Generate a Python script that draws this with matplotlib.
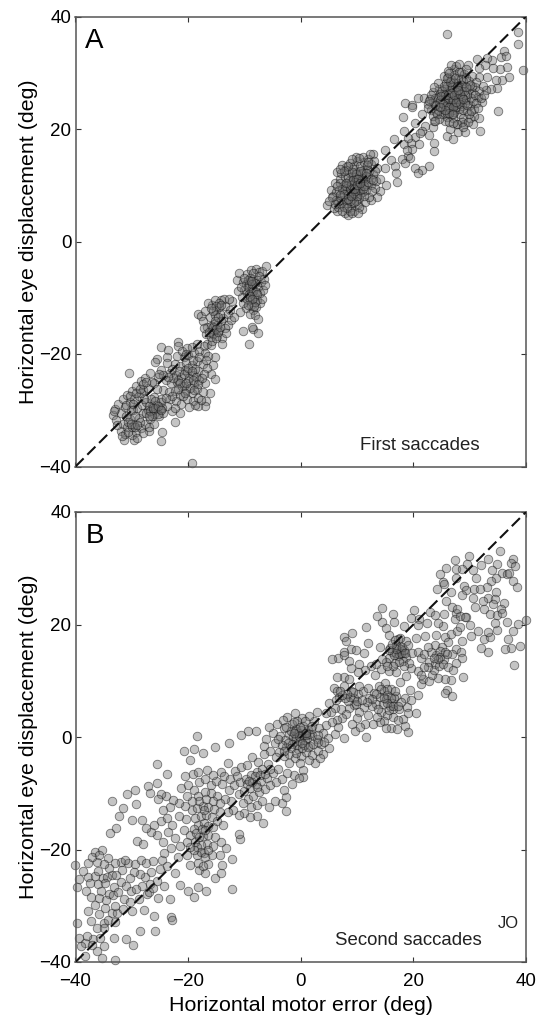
"""
Saccade amplitude vs motor error, first and second saccades.
"""
import numpy as np
import matplotlib
matplotlib.use("Agg")
import matplotlib.pyplot as plt

plt.rcParams['font.family'] = ['Liberation Sans', 'DejaVu Sans']

# Panel A, values (motor error, eye displacement)
a_top_sparse = [(26,36.9),(38.5,37.2),(38.5,35.1),(39.4,30.5),(35,23.2),(36.1,33.8),(35.6,32.8),(36.4,32.9),(31.3,32.5),
    (34,32.3),(33.1,32.6),(29.7,31.4),(36.7,31),(35.4,30.6),(34.2,30.8),(32.7,31.4),(31.7,30.8),(37,29.2),(35.8,28.8),
    (34.6,28.7),(33,29.3),(31.7,29.3),(34.9,27.3),(33.7,27.2),(32.9,26.9),(25.9,18.8),(27.1,18.2),(28,19.5),(29.2,19.4),
    (26.5,20),(31.8,19.6),(30.5,20.9),(27.8,20.9),(29,20.9),(31.7,21.9),(30.8,22.3),(32.1,24.8),(18.5,24.7),(19.8,24.2),
    (20.8,25.6),(21.8,25.6),(18.1,22.1),(21.6,22.6),(20.2,21),(22.1,20.6),(18.4,19.7),(21.5,19.7),(22.7,18.9),(23.5,20.3),
    (23.6,21.5),(16.5,18.2),(20.2,18.5),(21,17.4),(18.4,17.3),(19.6,17.6),(23.6,17.5),(23.6,16.1),(19.8,16.4),(15,16.2),
    (19,15.2),(18,14.6),(16,14.5),(18.6,13.9),(16.7,13.4),(20.2,13.1),(22.7,13.4),(21.5,12.8),(20.8,12.1),(17,12.2),
    (15,13.1),(17.1,10.5),(15.2,10.1),(14.1,8.9),(13.5,7.9),(12.5,7.4),(12.9,15.6),(19.7,23.9),(22.6,24.4),(23.4,26.6),
    (21.2,19.3),(19.1,18.4),(18.9,16.2),(19.4,14.9)]
a_top_dense = [(24.1,24.2),(25.2,26.3),(26.4,25.1),(27.3,27.2),(28.2,25.6),(25.8,28.1),(26.9,23.4),(27.9,29.1),(28.9,27.6),(29.4,25.1),
    (24.6,27.2),(23.4,24.9),(25.1,23.6),(26.1,29.3),(27.2,30.6),(28.4,30.1),(29.8,28.6),(30.6,26.4),(31.4,25.7),(30.1,24.3),
    (28.7,24.1),(27.4,24.7),(26.3,26.8),(25.4,25.2),(24.4,25.7),(23.1,23.4),(22.6,23.8),(24.9,22.6),(26,22.2),(27.1,21.9),
    (28.2,22.7),(29.5,23.2),(30.7,23.6),(29.9,27.1),(28.9,28.6),(27.8,28.1),(26.7,28.9),(25.6,27.1),(24.7,26.2),(23.9,25.6),
    (26.2,24.2),(27.6,25.9),(28.6,26.7),(27,26.3),(25.9,25.6),(26.6,27.6),(27.8,26.8),(28.1,23.5),(29.1,24.7),(30.2,25.6),
    (31,27.4),(30.4,29.4),(29,29.8),(27.6,31.2),(26.6,31.4),(25.4,29.4),(24.3,28.2),(25,24.6),(26.8,24.6),(28.4,25.1),
    (29.6,26.3),(27.3,23.1),(24,23.1),(25.6,21.4),(27.7,20.9),(30,22),(28.8,21.9),(26.5,23.6),(25.3,22.6),(23.4,22.3),
    (22.9,25.4),(23.6,27.4),(26.2,30.4),(27.9,27.7),(27.1,28.4),(28.4,27.9),(26,27.7),(25.1,26.8),(24.5,24.7),(29.2,26.1),
    (30.4,27.7),(31.6,26.8),(32.3,27.6),(31.2,28.4),(29.4,30.7),(28.1,31.6),(26.7,25.7),(27.4,24.3),(25.8,24.1),(28,24.6),
    (26.1,25.3),(27.5,26.5),(26.9,27.4),(28.6,25.7),(25.6,26),(24.8,25.1)]
a_top_extra = [(24.4,23.4),(24.9,25.9),(25.3,24.4),(25.5,27.6),(25.9,22.9),(26.2,26.1),(26.5,28.3),(26.8,22.7),(27,25.2),(27.2,29.6),
    (27.5,23.9),(27.7,27.4),(27.9,25.3),(28.1,30.2),(28.3,24.4),(28.5,28.9),(28.8,23.3),(29,26.7),(29.3,29.1),(29.5,24.2),
    (29.8,22.6),(30,27.9),(30.3,23.2),(30.6,25),(30.9,26.1),(31.2,24.6),(31.5,23.8),(32,25.6),(32.5,26),(24.2,22.7),
    (23.8,24.3),(23.2,26.1),(22.8,24.9),(26.4,24),(26.7,26.4),(27.1,24),(27.6,24.8),(27.3,26),(28.3,26.3),(26.3,22.9),
    (25.7,23.3),(24.7,23.9),(25.9,29),(26.4,29.9),(27.4,29),(28,27),(28.8,25.3),(29.4,27.5),(27,22.6),(28.6,21.2),
    (26.3,21.3),(24.6,21.8),(23.9,21.5),(29.7,21.3),(28.9,20.3),(27,21)]
a_mid_dense = [(4.6,6.5),(5.8,8.1),(6.5,5.4),(7.2,6.6),(7.9,5.1),(8.4,4.8),(8.9,6.2),(9.4,5.4),(10.1,6.6),(10.8,5.8),
    (11.4,7.1),(12.2,7.9),(6.2,7.4),(6.8,9.2),(7.4,8.1),(8,7.3),(8.6,8.4),(9.1,7.6),(9.7,8.5),(10.3,7.7),
    (10.9,8.8),(11.6,9.2),(12.4,10.1),(13.1,9.6),(5.3,9.1),(6,10.4),(6.9,11.1),(7.6,10),(8.3,9.5),(8.9,10.6),
    (9.5,9.8),(10.1,10.7),(10.7,9.9),(11.3,11),(12,11.5),(12.8,12),(13.4,10.8),(14,11.2),(6.4,12.4),(7.2,12.1),
    (7.9,11.5),(8.5,12.3),(9.2,11.6),(9.8,12.4),(10.4,11.8),(11,12.7),(11.7,12.9),(8,13.2),(8.7,14),(9.4,13.4),
    (10,14.3),(10.6,13.5),(11.2,14.2),(11.9,14.6),(12.5,13.8),(7.4,13.6),(9.8,15),(11,15.1),(12.3,15.5),(13,14.4),
    (9,9),(9.6,10.5),(10.2,9.3),(8.5,10.8),(10.8,10.9),(8.2,8.6),(9.3,8.3),(10.6,8.4),(7.8,9.1),(11.5,10.2),
    (7.2,7.4),(9,6.9),(10.4,6.2),(9.9,7.2),(8.7,5.4),(11.2,8.1),(12.6,8.9),(5.1,7.2),(5.9,5.9),(6.7,6.1),
    (8.4,11.4),(9.9,11.1),(10.9,12.2),(9.3,12.9),(8.1,12.7),(7,10.4),(6.2,8.8),(12.2,12.6),(13.6,13.1),(11.8,13.6)]
a_mid_extra = [(7.6,6.1),(8.2,6.9),(8.8,7.2),(9.2,8.7),(9.5,7),(9.8,9.4),(10,8.1),(10.3,10.1),(10.5,9.1),(10.8,11.3),
    (8.1,9.9),(8.4,7.6),(8.7,9.4),(9,10.1),(9.3,11),(9.6,9),(9.9,12),(10.2,11.2),(10.5,12.6),(11,9.4),
    (11.3,9.9),(11.6,11.6),(11.9,10.6),(7.4,9.4),(7.7,8.4),(7,8.2),(6.6,7.2),(8,10.4),(8.9,8.1),(9.4,9.4),
    (10,10),(10.6,10.4),(9.1,12.4),(8.4,13.4),(7.6,12.6),(6.9,12.9),(10.4,14.8),(9.1,14.6),(11.6,12.1),(12.4,11.1),
    (8.3,5.9),(9.1,5.1),(7.4,5.4),(10.1,5.1),(6.1,6.7),(5.5,7.9),(6.4,9.9),(12.9,11),(13.1,12.6),(12,14.1)]
a_neg9 = [(-11.4,-6.8),(-11,-5.6),(-10.3,-7.2),(-10.1,-8.6),(-9.6,-5.8),(-9.2,-7.4),(-8.9,-5),(-8.4,-6.6),(-8,-4.8),(-7.4,-5.4),
    (-6.9,-5.2),(-6.1,-4.4),(-7.7,-6.8),(-8.7,-8.2),(-9.5,-9.2),(-10.5,-9.8),(-11.2,-8.8),(-7.6,-8.1),(-7.1,-7.2),(-6.5,-6.6),
    (-9.1,-10.4),(-8.3,-9.6),(-7.8,-10.4),(-8.9,-11.2),(-9.7,-11.8),(-10.3,-11),(-7.2,-9.2),(-6.7,-8.6),(-8.5,-12.2),(-7.9,-11.6),
    (-9.1,-12.9),(-8.2,-13),(-10.8,-12.5),(-7.3,-11),(-6.9,-10.3),(-10.2,-15.9),(-8.4,-15.6),(-7.6,-16.2),(-9.2,-18.2),(-7.6,-13.8),
    (-8.6,-15.2),(-8.1,-7.4),(-9.8,-7.6),(-8.8,-9),(-9.3,-8.1),(-8.2,-10.8),(-9,-6.4),(-6.4,-7.7),(-9.4,-6.9),(-8.6,-7.6),
    (-8.9,-7.1),(-9.2,-9.4),(-8.5,-8.8),(-9.6,-10.2),(-8,-9),(-7.7,-9.4),(-8.3,-11.4),(-9,-9.6),(-8.7,-10.2),(-9.4,-11.2),
    (-8.4,-5.6),(-7.4,-6.2),(-10,-6.4),(-10.6,-8)]
a_neg15 = [(-18.3,-12.8),(-17.8,-13.2),(-17.4,-14.2),(-17,-12.4),(-16.6,-15.2),(-16.2,-13.4),(-15.8,-11.2),(-15.4,-14.6),(-15,-12.2),(-14.6,-15.8),
    (-14.2,-10.4),(-13.8,-13.6),(-13.4,-11.4),(-13,-14.8),(-12.6,-12.2),(-12.2,-10.6),(-16.4,-11),(-15.2,-10.4),(-14.4,-12.8),(-13.6,-10.2),
    (-16.8,-16.4),(-16,-17),(-15.4,-15.8),(-14.8,-16.8),(-14.2,-14.2),(-13.4,-15.4),(-15.6,-16.4),(-14.9,-14.8),(-15.9,-15),(-14,-17.2),
    (-16.6,-18.2),(-17.2,-18.6),(-16,-18.4),(-13.9,-18.3),(-14.5,-11.6),(-15.3,-13),(-13,-12.9),(-12.4,-14),(-11.8,-13.4),(-17.2,-15.4),
    (-15.7,-17.6),(-16.3,-16),(-15.1,-17.2),(-14.7,-13.4),(-13.2,-16.2),(-12.7,-10.2),(-15.5,-15.2),(-15,-15.6),(-14.6,-11),(-15,-11.4),
    (-14.1,-11.2),(-15.6,-12.4),(-16,-11.8),(-14.7,-16),(-15.3,-14.2),(-14.4,-15.2)]
a_neg20 = [(-21.8,-17.8),(-21.8,-18.6),(-24.8,-18.8),(-23.5,-19.2),(-25.6,-20.8),(-25.9,-21.4),(-23.7,-20.6),(-30.5,-23.3),(-15.3,-20.5),(-15.6,-22),
    (-16,-23.6),(-15.2,-24.4),(-16.2,-26.9),(-16.9,-28.3),(-17,-29.2),(-18.3,-29.2),(-21.5,-30.5),(-22.9,-30.2),(-22.3,-32.1),(-24.6,-33.8),
    (-24.8,-35.4),(-26.9,-33.6),(-19.3,-39.3),(-20.8,-20.6),(-20,-20.2),(-19,-19.8),(-18,-19.4),(-17,-19.8),(-16.4,-20.4),(-22.4,-21.8),
    (-21.4,-22.2),(-20.4,-21.6),(-19.4,-22),(-18.4,-21.2),(-17.4,-21.8),(-16.6,-22.4),(-23.2,-23.4),(-22.2,-23.8),(-21.2,-24),(-20.2,-23.2),
    (-19.2,-23.8),(-18.2,-23),(-17.2,-23.6),(-24,-24.6),(-23,-25.2),(-22,-25),(-21,-25.6),(-20,-24.8),(-19,-25.4),(-18,-24.6),
    (-17,-25.2),(-24.4,-26.4),(-23.4,-26.8),(-22.4,-26.6),(-21.4,-27.2),(-20.4,-26.4),(-19.4,-27),(-18.4,-26.2),(-17.4,-26.8),(-23.2,-28),
    (-22.2,-28.4),(-21.2,-28.8),(-20.2,-28),(-19.2,-28.4),(-18.2,-27.8),(-20.6,-22.8),(-19.8,-24.2),(-21.8,-24.6),(-18.8,-22.6),(-20.8,-25.6),
    (-22.8,-22.6),(-24.8,-22.8),(-25.4,-24),(-26,-25.2),(-19.6,-26),(-20.9,-27.4),(-17.8,-28.2),(-18.8,-29),(-19.8,-29.4),(-22.4,-29.6),
    (-23.8,-29.2),(-24.8,-28),(-22,-20.4),(-21,-19.4),(-20.2,-19),(-19.2,-21),(-18,-20.6),(-21.6,-23),(-20.8,-23.6),(-20,-22.4),
    (-19.4,-23),(-18.6,-24),(-22.6,-24.2),(-21.4,-25.2),(-20.4,-25.2),(-19.2,-24.6),(-18.2,-25.4),(-23.6,-24),(-22.8,-27.4),(-21.8,-26.2),
    (-20.6,-27),(-19,-26.4),(-17.6,-24.2),(-16.8,-21),(-23.8,-21.6),(-24.4,-23.8),(-18.4,-18.2),(-19.4,-18.8),(-20.4,-20)]
a_neg30 = [(-33.4,-30.8),(-33,-29.8),(-32.4,-28.8),(-32.8,-31.8),(-32,-30.4),(-31.6,-28),(-31.2,-29.4),(-30.8,-27.2),(-30.4,-28.6),(-30,-26.6),
    (-29.6,-28),(-29.2,-25.6),(-28.8,-27.4),(-28.4,-24.8),(-28,-26.4),(-27.6,-24.2),(-27.2,-26),(-26.8,-23.4),(-26.4,-25),(-26,-27.6),
    (-25.6,-26.2),(-25.2,-23.6),(-31.4,-35.3),(-29.6,-35.3),(-32,-33.6),(-31.6,-32.4),(-31.2,-34.2),(-30.8,-33),(-30.4,-31.6),(-30,-34.4),
    (-29.6,-32.6),(-29.2,-33.8),(-28.8,-31.4),(-28.4,-33.2),(-28,-30.4),(-27.6,-32.4),(-27.2,-30),(-26.8,-31.6),(-26.4,-29.2),(-26,-30.6),
    (-25.6,-29),(-25.2,-31),(-24.8,-28.6),(-24.4,-30.4),(-24,-27.8),(-29.8,-30),(-29,-29.6),(-28.2,-29),(-27.4,-28.6),(-26.6,-28),
    (-25.8,-28.4),(-25,-29.8),(-27,-29.2),(-26.2,-30),(-25.4,-30.6),(-24.6,-29.6),(-27.8,-28),(-30.2,-30),(-31,-31),(-29.4,-31),
    (-28.6,-32),(-30.6,-32),(-28,-34),(-27,-33),(-32.6,-32.6),(-31.8,-34.6),(-33.2,-30.2),(-29,-35),(-26,-32.4),(-28.4,-27),
    (-27.4,-30.4),(-26.8,-30.2),(-26.4,-31),(-25.9,-29.6),(-27,-31),(-26.2,-29.6),(-25.4,-29.2),(-24.9,-30),(-30.6,-33.8),(-30,-33),
    (-29.4,-33),(-30.2,-32.4),(-29,-32.6),(-31,-29),(-30.4,-27.4),(-29.8,-28.8),(-29.2,-27),(-28.6,-26.2),(-28,-25.4),(-27.4,-25)]

# Panel B
b_top = [(35.3,33.1),(29.8,32.2),(27.4,31.5),(33.2,31.6),(37.7,31.7),(37.3,30.9),(38,30.4),(34.8,30.8),(32,30.6),(29.6,30.7),
    (25.8,30),(27.5,29.9),(28.7,29.8),(30.5,29.7),(34,29.7),(24.8,28.9),(35.7,29.2),(36.7,29),(37,29.2),(31.1,28.2),
    (27.6,28.3),(34.6,28.2),(33.8,27.8),(25.3,27.6),(25.5,27.2),(24.2,26.4),(33,26.7),(37.7,27.7),(38.4,26.6),(29,26.9),
    (29.3,26.1),(30.8,26.3),(31.8,26.4),(34.6,25.8),(28.6,25.3),(26.6,25.7),(30.5,24.7),(33.3,24.8),(34.5,24.5),(32.3,24.1),
    (34.1,23.7),(36.1,23.9),(30.9,23.1),(32.5,22.7),(35.5,22.7),(33.6,21.8),(34.9,21.7),(36.6,20.5),(35.8,22),(40,20.8),
    (38.6,20.1),(37.7,18.9),(34.9,19.1),(34.5,20.3),(36.8,17.4),(39,16.2),(37.3,15.8),(36.3,15.6),(37.9,12.8),(33.3,15.1),
    (32,15.9),(32.6,17.4),(33.6,17.7),(33.2,18.7),(31.5,18.9),(30.3,18),(28.7,17),(30,20),(29.4,21.4),(27.5,22)]
b_mid = [(14.4,23),(16.4,21.8),(20.1,22.6),(22.9,22.3),(14.5,20.5),(13.6,21.6),(15.2,19.3),(18.3,19.8),(16.6,20.5),(19.6,21.2),
    (21,20.9),(23.8,21.7),(25.4,21.9),(27.4,21),(28.3,21.6),(29.2,21.3),(25.8,24.1),(26.8,23.2),(27.7,22.8),(25.3,19.8),
    (24.4,20.2),(22.5,20.2),(20.9,19.9),(11.5,19.6),(9.1,18.5),(7.6,17.8),(8.1,17.1),(15.6,18.2),(11.9,16.7),(14.1,16),
    (9,15.6),(9.9,15.4),(7.6,15.1),(6.6,14),(7.6,14.5),(5.5,13.9),(11.3,14.9),(12.4,12.7),(10.4,13),(8.6,13.6),
    (17.2,17.4),(18.7,17.1),(20.5,17.6),(22.1,18),(24,18.1),(25.6,17.7),(26.6,18.4),(27.8,18.9),(28.3,19.5),(26.2,16.9),
    (23.8,16.4),(25,16),(27.5,15.6),(28.4,15.1),(26.8,14.7),(24,14.6),(22.8,13.4),(23.9,13),(25.4,13.9),(28.6,14),
    (27.6,13.2),(28.8,10.7),(26.6,10.2),(25.6,10.4),(25.9,8.4),(25.6,7.8),(26.9,7.3),(21.4,9.4),(21.7,10.3),(22.7,10),
    (24.4,10.5),(23.3,11),(23.6,12),(20.8,11.8),(21.4,11.1),(19.6,12.2),(18.7,10.9),(20.9,7.4),(19.4,8.3),(17.7,9.8),
    (17.4,15.8),(18.1,14.9),(18.7,14.3),(17.2,14.4),(16.2,15.1),(17.8,15.6),(15.8,15.9),(16.9,16.4),(15.6,14.1),(15.1,13.4),
    (16.7,13.2),(18.2,13.5),(19.7,14.9),(20.8,15.2),(21.4,14.1),(23.2,15.1),(24.8,15.3),(22.6,16),(21.9,14.7),(24.6,12.6),
    (14.3,12.1),(15.6,11.8),(17,11.6),(13.2,11),(11.4,11.9),(10.2,11.6),(9,12.2),(7.7,10.7),(8.5,10.3),(6.5,10.7),
    (5.9,8.8),(6.4,8.2),(6.8,7.1),(7.6,9.1),(8.9,8.1),(9.4,6.9),(10.2,7.7),(11,8.2),(12,8.7),(13,7.8),
    (14,7.2),(15.2,6.7),(16.2,6.1),(17,7.3),(18.5,6.9),(19.6,6.5),(18.8,5.3),(17.5,4.9),(16.4,4.9),(13.4,5.8),
    (14.2,4.4),(15.3,3.9),(16.3,3.6),(15.8,5.6),(18.2,3.2),(17.2,3.1),(20.4,4.2),(19,4.3),(14.8,2.9),(14,2.6),
    (12.8,2.3),(13.5,3.6),(12,3.9),(12.6,5.6),(11.2,5.3),(10.4,4.4),(10,3.4),(9.4,5.7),(8.6,5.1),(8,4.1),
    (7.4,3.4),(6.4,3),(7.1,5),(6,5.2),(5.4,4.5),(4.4,4.2),(5,6.1),(11.4,2.4),(16.1,1.6),(15.2,1.6),
    (17.1,1.4),(18.5,2),(19,0.9),(9.6,1),(11.6,0),(10.6,1.8),(9.1,2.4),(12.2,7),(13.9,9),(15,9.6),(16,8.5)]
b_clusters = [(17,15),(17.4,14.7),(17.8,14.9),(18.3,15.4),(16.6,14.6),(16.9,15.6),(18,16),(18.5,15),(17.6,17.6),(19,16.4),
    (15.6,15.4),(16.2,16.6),(16.8,17.2),(19.2,13.2),(18.4,12.6),(17.4,13.4),(16.4,12.6),(15.3,12.6),(14.4,13.8),(13.4,13),
    (24.8,14.2),(25.2,13),(25.6,15.2),(24.4,13.8),(23.6,14),(26.2,12.4),(26,14.8),(27,12),(22.6,12.4),(21.8,12.4),
    (8.4,6.4),(8.8,7.2),(9.2,8),(8.2,7.6),(7.8,6.9),(7.4,7.4),(9.8,5.8),(10,6.4),(7,8.1),(6.2,6.6),
    (14.8,8.1),(15.4,7.4),(14.6,5.8),(15.6,4.8),(13.8,5),(16.6,6.9),(17.8,6.2),(16.8,8.1),(15.4,8.6),(14.2,8.6),
    (16,7),(15.4,6),(14.8,7),(16.4,5.6),(17.2,5.6),(13.4,7.6),(12.6,6.8),(11.8,6.2),(10.8,6.6),(10.4,9)]
b_zero = [(-5,0.8),(-2.4,3.5),(-7.9,1.1),(-9.3,1.1),(-10.6,0.4),(-6.1,-0.3),(-4.6,-1),(-3.6,0.2),(-3,1.6),(-2.6,-1.8),
    (-2,0.6),(-1.6,2.4),(-1.2,-0.8),(-0.8,1.4),(-0.4,-2.2),(0,0.4),(0.4,2),(0.8,-0.6),(1.2,1.2),(1.6,-1.6),
    (2,0.4),(2.4,2.8),(2.8,-0.4),(3.2,1.6),(3.6,-1.2),(4,0.8),(4.4,2.2),(4.8,-0.2),(-1.4,0.2),(-0.9,-0.2),
    (-0.5,0.7),(-0.1,-0.7),(0.3,0.1),(0.7,0.8),(1.1,-0.2),(1.5,0.5),(-1.8,1),(-1,1),(0.1,1.2),(1.8,1.4),
    (-3.8,-2.6),(-3,-3.4),(-2,-3),(-1,-3.8),(0,-3.4),(1,-2.6),(2,-3.2),(3,-2.4),(4,-3),(5,-2),
    (2.5,-4.6),(0.4,-5.8),(-1.25,-6.7),(0.4,-7.1),(-0.3,-7.2),(7.6,-0.2),(6,0.6),(6.6,1.8),(5.6,2.6),(-1,4.2),
    (0.2,3.4),(1.4,3.8),(2.8,4.4),(-0.6,2.9),(-4.2,2.4),(-5.6,1.8),(-3.2,3.1),(-6.6,-1.6),(-5.4,-2.4),(-4.4,-3.6),
    (-1.6,-1.2),(-0.6,-1.4),(0.6,-1.4),(1.4,-4),(-0.2,-4.6),(-2,-4.6),(3.4,-3.8),(0.9,0.3),(-0.3,0.2),(-1.2,0.8),
    (-2.8,-0.6),(-2.2,-1),(-3.4,-1.4),(-1.8,-2),(-0.8,-2.8),(0.2,-2),(1.2,-1.8),(2.2,-1.2),(3.1,-0.9),(4.2,-0.8),
    (-2.6,1.8),(-1.2,2.6),(0.8,2.8),(2,2),(3,0.4),(0.2,-1),(-0.2,1.8),(1,0.8),(-4,-0.4),(-3,-2.4)]
b_lower = [(-18.5,0.2),(-20.8,-2.5),(-18.9,-2.1),(-15.2,-1.8),(-12.8,-1.1),(-19.6,-4),(-17.4,-2.8),(-25.5,-4.8),(-23.7,-6.6),(-25.5,-8.1),
    (-27.2,-8.7),(-29.5,-9.5),(-30.8,-10.1),(-33.5,-11.3),(-29.2,-11.9),(-31.6,-12.7),(-32.3,-14.1),(-29.9,-14.8),(-28.2,-14.7),(-32.8,-16.2),
    (-33.8,-17.1),(-29.1,-18.4),(-28,-19.1),(-36.6,-20.5),(-35.3,-20.1),(-34.3,-21.5),(-37.7,-22.4),(-40,-22.8),(-36.2,-22.3),(-39.3,-25.3),
    (-37.7,-24.8),(-39.8,-26.6),(-38.1,-27.3),(-37.2,-28.5),(-36.6,-29.8),(-37.8,-30.9),(-39.7,-33.1),(-37.3,-32.7),(-39.3,-35.7),(-38.4,-36.6),
    (-39.1,-37.2),(-38.4,-38.9),(-36.9,-35.9),(-36.2,-38.1),(-35.3,-39.3),(-33,-39.6),(-34.9,-37.2),(-33.2,-35.7),(-31,-35.9),(-29.8,-36.9),
    (-28.5,-34.4),(-25.8,-34.4),(-26,-31.9),(-23,-32),(-22.8,-32.6),(-27.8,-30.8),(-29.9,-31),(-25.3,-28.7),(-23.3,-28.8),(-27.3,-27.9),
    (-24.2,-26.4),(-22.4,-24.1),(-21.5,-26.3),(-20.1,-27.4),(-18.9,-28.5),(-16.8,-27.4),(-18.3,-26.6),(-12.2,-27),(-15.3,-25),(-14.1,-24.2),
    (-14,-22.7),(-12.2,-21.7),(-13.2,-19.7),(-14.4,-20.9),(-10.7,-18.1),(-10.9,-17.2),(-6.7,-15.3),(-7.8,-14),(-9.1,-14.2),(-10,-13.5),
    (-10.9,-13.9),(-2.6,-13.2),(-5.7,-12.4),(-3.3,-11.7),(-4.6,-11.3),(-2.6,-10.7),(-36.5,-24.7),(-35.2,-25),(-34.4,-24.9),(-33.6,-24.6),
    (-36,-26.1),(-34.8,-26),(-33.2,-26.6),(-32,-25.8),(-31,-26.4),(-35.4,-27.4),(-34,-27.9),(-33.4,-28),(-32.4,-27.6),(-31.4,-28.8),
    (-30.2,-27.4),(-35.8,-31.4),(-34.8,-30.4),(-33.6,-31.2),(-32.6,-31.2),(-35,-33),(-34.2,-32.6),(-33,-32.8),(-36.2,-34),(-35,-34),
    (-38,-35.4),(-37,-37),(-35.6,-35.8),(-30.6,-22.4),(-32,-22.2),(-31.2,-21.8),(-29.4,-22.6),(-28.4,-21.8),(-27.4,-22.4),(-26.2,-22),
    (-25,-23.4),(-26.6,-24),(-27.6,-24.8),(-28.6,-24.4),(-29.6,-24),(-30.4,-25),(-24.6,-21.8),(-23.8,-23),(-25.6,-25.6),(-26.8,-26.2),
    (-28.2,-26.4),(-29.2,-27),(-27,-27.6),(-33,-22.4),(-34,-23.2),(-35,-22.6),(-36,-23.8),(-38.6,-23.8),(-37,-21.4),(-35.8,-21),
    (-24.4,-18.6),(-25.6,-17.4),(-26.6,-16.8),(-27.4,-16.2),(-26,-15.6),(-24.8,-15),(-23.8,-14.4),(-22.8,-15.6),(-23.6,-16.8),(-22.4,-18),
    (-21.4,-19.4),(-23,-19.8),(-24.2,-20.6),(-21.8,-21.4),(-20.2,-21),(-19.6,-22.8),(-18,-23.6),(-17,-24.2),(-16.4,-22.6),(-15.8,-21),
    (-17.2,-20.6),(-18.4,-21),(-16.6,-19),(-15.6,-19.4),(-17.8,-19.2),(-18.8,-18.6),(-19.6,-17.4),(-20.8,-16.6),(-17.4,-17.6),(-16.4,-17.4),
    (-15.2,-17.8),(-14.2,-18.6),(-18.2,-15.6),(-17.2,-15.2),(-16.4,-15.8),(-15.6,-16),(-18.8,-14.4),(-17.8,-14),(-16.8,-13.8),(-15.8,-14.2),
    (-14.8,-15),(-13.8,-15.6),(-19.4,-13),(-18.4,-12.6),(-17.4,-12.2),(-16.4,-12.4),(-15.4,-12.8),(-14.4,-13.4),(-20.6,-12.2),(-21.6,-11.8),
    (-22.6,-11.2),(-24,-10.4),(-24.8,-10.2),(-25.4,-11),(-26.8,-10),(-23.2,-12.4),(-24.4,-13),(-21.2,-9),(-20,-8.6),(-19,-9.4),
    (-18,-8),(-17,-7.4),(-16,-8.6),(-15,-7.8),(-14,-8.4),(-20.6,-7),(-19.2,-6.6),(-18.2,-6.2),(-16.6,-5.8),(-15.6,-6.8),
    (-14.2,-6.2),(-13,-4.6),(-13.6,-6.9),(-12.6,-7.4),(-11.6,-6),(-10.6,-5.4),(-9.6,-5),(-8.6,-3.6),(-7.6,-4.4),(-6.6,-3),
    (-12.8,-9.4),(-11.8,-8.6),(-10.8,-8),(-9.8,-7.4),(-8.8,-6.8),(-7.8,-6.2),(-6.8,-5.6),(-5.8,-4.8),(-11,-10.2),(-10,-9.6),
    (-9,-9),(-8,-8.4),(-7,-7.8),(-6,-7.2),(-5,-6.4),(-4,-5.6),(-9.4,-11),(-8.4,-10.4),(-7.4,-9.8),(-6.4,-9.2),
    (-5.4,-8.6),(-4.4,-8),(-3.4,-7.4),(-2.4,-6.4),(-8.8,-12.4),(-7.8,-12),(-6.8,-11.4),(-1.6,-8.4),(-3,-9.4),(-12.4,-11.4),
    (-13.4,-11),(-14.8,-10.4),(-16,-10),(-17,-9.8),(-18.2,-10.4),(-12,-13),(-13,-13.4),(-19,-16.4),(-20.4,-14.6),(-21.6,-14),
    (-18.6,-17),(-18,-17.8),(-17.6,-16.4),(-17,-16.6),(-18.4,-19.6),(-17.8,-20.4),(-17,-21.4),(-16.4,-20),(-18.2,-22.4),(-17.4,-23),
    (-19,-20),(-19.6,-19.6),(-20.2,-18.6),(-17.2,-13),(-18,-11.4),(-16.8,-11),(-15.6,-11.4),(-14.4,-11.8),(-19.4,-11.4),(-20.2,-10.4),
    (-10.2,-11.8),(-9.6,-8.4),(-8.6,-8),(-8.2,-7),(-7.2,-6.8),(-7.8,-8.8),(-9.2,-7.8),(-6.4,-6.6),(-5.4,-5.6),(-11.4,-7),
    (-31.8,-23.6),(-32.8,-24.6),(-37.4,-26),(-35.8,-28.6),(-34.6,-29),(-33,-30),(-31.6,-30.6),(-30.4,-29.4),(-28.8,-28.8),(-26.2,-26.8)]

panel_a = [a_top_sparse, a_top_dense, a_top_extra, a_mid_dense, a_mid_extra, a_neg9, a_neg15, a_neg20, a_neg30]
panel_b = [b_top, b_mid, b_clusters, b_zero, b_lower]

limits = [-40, 40]
ticks = [-40, -20, 0, 20, 40]
tick_labels = ['\u221240', '\u221220', '0', '20', '40']
width, height = 543, 1019


def draw_panel(ax, groups, letter, note, note_pos):
    pts = np.array([p for g in groups for p in g])
    ax.scatter(pts[:, 0], pts[:, 1], s=38, facecolor=(0.45, 0.45, 0.45, 0.42),
               edgecolor=(0.05, 0.05, 0.05, 0.52), linewidth=0.6, clip_on=False, zorder=2)
    # unity line
    ax.plot(limits, limits, color='#111111', lw=1.5, dashes=(5.5, 2.5), zorder=3)
    ax.set_xlim(limits)
    ax.set_ylim(limits)
    ax.set_xticks(ticks)
    ax.set_yticks(ticks)
    ax.set_yticklabels(tick_labels, fontsize=13.5)
    ax.tick_params(direction='in', length=3.6, width=0.8, color='#333333', top=True, right=True)
    ax.tick_params(axis='x', pad=8)
    ax.tick_params(axis='y', pad=3)
    for spine in ax.spines.values():
        spine.set_color('#555555')
        spine.set_linewidth(1.1)
    ax.set_ylabel('Horizontal eye displacement (deg)', fontsize=15.4, labelpad=1)
    ax.text(0.022, 0.946, letter, transform=ax.transAxes, fontsize=20, va='center', ha='left')
    ax.text(note_pos[0], note_pos[1], note, transform=ax.transAxes, fontsize=13.4,
            va='center', ha='left', color='#222222')


fig = plt.figure(figsize=(width / 100, height / 100), dpi=100)
ax_a = fig.add_axes([75.5 / width, 1 - 466.5 / height, 450.5 / width, 450 / height])
ax_b = fig.add_axes([75.5 / width, 1 - 962 / height, 450.5 / width, 450 / height])

draw_panel(ax_a, panel_a, 'A', 'First saccades', (0.632, 0.047))
draw_panel(ax_b, panel_b, 'B', 'Second saccades', (0.577, 0.048))
ax_a.set_xticklabels([])
ax_b.set_xticklabels(tick_labels, fontsize=13.5)
ax_b.set_xlabel('Horizontal motor error (deg)', fontsize=15.4, labelpad=4)
ax_b.text(0.938, 0.086, 'JO', transform=ax_b.transAxes, fontsize=12, va='center', ha='left', color='#222222')

fig.savefig('out.png', dpi=100)
plt.close(fig)
